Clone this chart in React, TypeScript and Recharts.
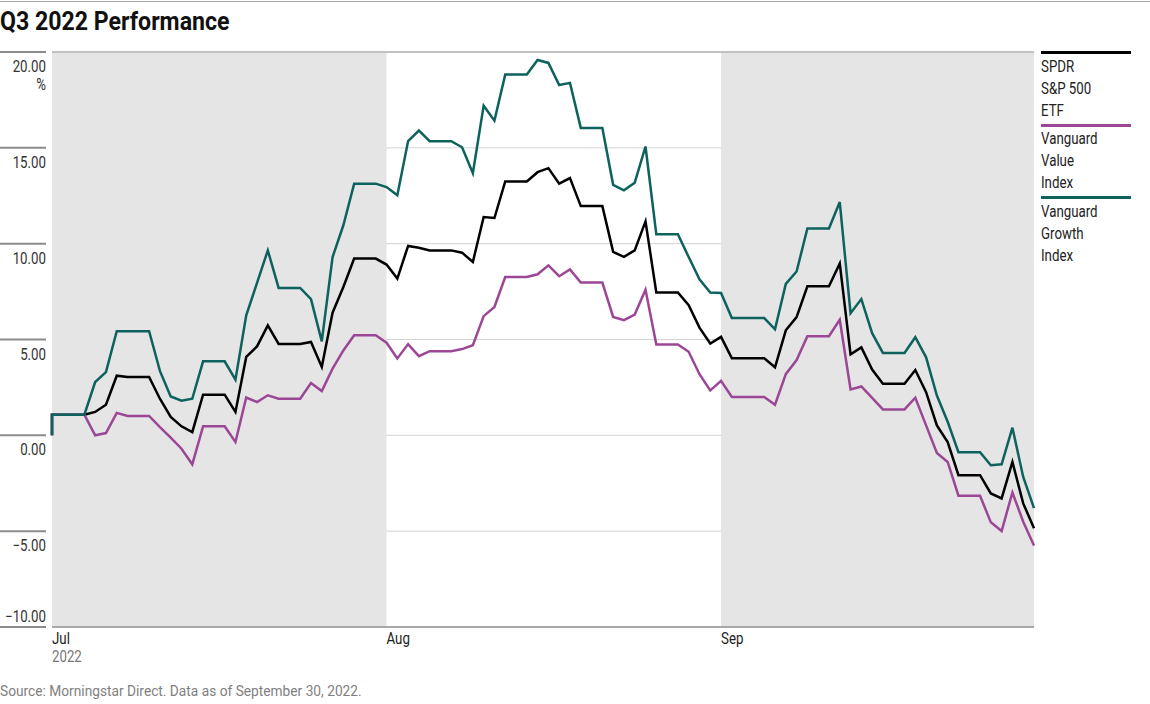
import React from "react";
import {
    LineChart,
    Line,
    XAxis,
    YAxis,
    CartesianGrid,
    ReferenceArea,
    ReferenceLine,
} from "recharts";

// ── Data ──────────────────────────────────────────────────────────────────────
// x = calendar day of the quarter (0 = Jul 1). First entry is the Jun 30 base.
const days = [0, ...Array.from({ length: 92 }, (_, i) => i)];

// cumulative total return, %, one value per calendar day (weekends carry over)
const spyValues = [
    0,
    1.08, 1.08, 1.08, 1.08, 1.22, 1.6, 3.11, 3.04, 3.04, 3.04,
    1.91, 0.96, 0.47, 0.17, 2.12, 2.12, 2.12,
    1.22, 4.09, 4.64, 5.74, 4.77, 4.77, 4.77,
    4.87, 3.57, 6.4, 7.74, 9.22, 9.22, 9.22,
    8.91, 8.18, 9.88, 9.79, 9.65, 9.65, 9.65,
    9.53, 9.04, 11.39, 11.34, 13.25, 13.25, 13.25,
    13.73, 13.94, 13.13, 13.42, 11.96, 11.96, 11.96,
    9.57, 9.31, 9.65, 11.16, 7.45, 7.45, 7.45,
    6.79, 5.62, 4.79, 5.14, 4.02, 4.02, 4.02, 4.02,
    3.55, 5.48, 6.17, 7.78, 7.78, 7.78,
    8.97, 4.23, 4.59, 3.43, 2.69, 2.69, 2.69,
    3.41, 2.25, 0.52, -0.35, -2.08, -2.08, -2.08,
    -3.03, -3.29, -1.39, -3.55, -4.85,
];

const valueValues = [
    0,
    1.08, 1.08, 1.08, 1.08, 0.0, 0.12, 1.17, 1.01, 1.01, 1.01,
    0.43, -0.12, -0.7, -1.51, 0.47, 0.47, 0.47,
    -0.35, 1.97, 1.74, 2.09, 1.91, 1.91, 1.91,
    2.73, 2.31, 3.48, 4.43, 5.22, 5.22, 5.22,
    4.83, 4.01, 4.76, 4.13, 4.39, 4.39, 4.39,
    4.5, 4.7, 6.22, 6.7, 8.26, 8.26, 8.26,
    8.4, 8.87, 8.3, 8.66, 7.97, 7.97, 7.97,
    6.18, 6.01, 6.3, 7.6, 4.74, 4.74, 4.74,
    4.36, 3.19, 2.34, 2.84, 2.0, 2.0, 2.0, 2.0,
    1.6, 3.19, 3.93, 5.17, 5.17, 5.17,
    6.03, 2.4, 2.55, 1.96, 1.35, 1.35, 1.35,
    1.96, 0.52, -0.92, -1.39, -3.15, -3.15, -3.15,
    -4.54, -4.99, -2.98, -4.51, -5.75,
];

const growthValues = [
    0,
    1.08, 1.08, 1.08, 1.08, 2.78, 3.3, 5.43, 5.43, 5.43, 5.43,
    3.36, 2.03, 1.81, 1.91, 3.86, 3.86, 3.86,
    2.9, 6.26, 7.95, 9.65, 7.69, 7.69, 7.69,
    7.1, 4.9, 9.3, 10.96, 13.13, 13.13, 13.13,
    12.95, 12.52, 15.35, 15.9, 15.35, 15.35, 15.35,
    15.03, 13.68, 17.2, 16.42, 18.82, 18.82, 18.82,
    19.58, 19.43, 18.28, 18.39, 16.04, 16.04, 16.04,
    13.07, 12.78, 13.18, 15.07, 10.49, 10.49, 10.49,
    9.3, 8.14, 7.45, 7.43, 6.12, 6.12, 6.12, 6.12,
    5.53, 7.9, 8.55, 10.79, 10.79, 10.79,
    12.17, 6.37, 7.11, 5.33, 4.3, 4.3, 4.3,
    5.12, 4.07, 2.08, 0.71, -0.88, -0.88, -0.88,
    -1.56, -1.51, 0.4, -2.17, -3.8,
];

const monthTicks = [0, 31, 62];
const monthLabels = ["Jul", "Aug", "Sep"];
const yTicks = [-10, -5, 0, 5, 10, 15, 20];

const series = [
    { key: "spy", color: "#000000", lines: ["SPDR", "S&P 500", "ETF"] },
    { key: "value", color: "#9b4795", lines: ["Vanguard", "Value", "Index"] },
    { key: "growth", color: "#0e625d", lines: ["Vanguard", "Growth", "Index"] },
];

const data = days.map((day, i) => ({
    day,
    spy: spyValues[i],
    value: valueValues[i],
    growth: growthValues[i],
}));

// no condensed face installed, so Roboto gets squeezed horizontally
const FONT = "Roboto, 'Noto Sans', sans-serif";
const SX = 0.83;

// ── Ticks ─────────────────────────────────────────────────────────────────────
function YTick({ y, payload }: any) {
    const v = payload.value;
    const label = (v < 0 ? "\u2212" : "") + Math.abs(v).toFixed(2);
    const isBottom = v === yTicks[0];
    const isTop = v === yTicks[yTicks.length - 1];
    const ty = isBottom ? y - 5 : y + 20;
    return (
        <g>
            <line x1={0} x2={46} y1={y} y2={y} stroke="#8c8c8c" strokeWidth={2} />
            <text
                transform={`translate(46 ${ty}) scale(${SX} 1)`}
                textAnchor="end"
                fontSize={16}
                fill="#333"
                fontFamily={FONT}
            >
                {label}
            </text>
            {isTop && (
                <text
                    transform={`translate(46 ${y + 38}) scale(${SX} 1)`}
                    textAnchor="end"
                    fontSize={16}
                    fill="#333"
                    fontFamily={FONT}
                >
                    %
                </text>
            )}
        </g>
    );
}

function XTick({ x, payload }: any) {
    const idx = monthTicks.indexOf(payload.value);
    return (
        <g>
            <text transform={`translate(${x} 644) scale(${SX} 1)`} fontSize={16} fill="#222" fontFamily={FONT}>
                {monthLabels[idx]}
            </text>
            {idx === 0 && (
                <text transform={`translate(${x} 662) scale(${SX} 1)`} fontSize={16} fill="#777" fontFamily={FONT}>
                    2022
                </text>
            )}
        </g>
    );
}

const squeeze = (sx: number): React.CSSProperties => ({
    display: "inline-block",
    transform: `scaleX(${sx})`,
    transformOrigin: "left",
    whiteSpace: "nowrap",
});

// ── Component ─────────────────────────────────────────────────────────────────
export default function App() {
    return (
        <div
            style={{
                position: "absolute",
                left: 0,
                top: 0,
                width: 1150,
                height: 704,
                background: "#fff",
                fontFamily: FONT,
                overflow: "hidden",
            }}
        >
            <div style={{ position: "absolute", left: 0, top: 1, width: 1150, height: 1, background: "#aaa" }} />
            <div
                style={{
                    position: "absolute",
                    left: 0,
                    top: 8,
                    fontSize: 26,
                    lineHeight: "26px",
                    fontWeight: 700,
                    color: "#111",
                }}
            >
                <span style={squeeze(0.89)}>Q3 2022 Performance</span>
            </div>

            <LineChart
                width={1150}
                height={704}
                data={data}
                margin={{ top: 52, right: 116, left: 0, bottom: 27 }}
            >
                <ReferenceArea x1={0} x2={31} y1={-10} y2={20} fill="#e5e5e5" fillOpacity={1} stroke="none" />
                <ReferenceArea x1={62} x2={91} y1={-10} y2={20} fill="#e5e5e5" fillOpacity={1} stroke="none" />
                <CartesianGrid vertical={false} stroke="#d4d4d4" strokeWidth={1} />
                <ReferenceLine y={20} stroke="#b5b5b5" strokeWidth={1.5} />
                <XAxis
                    dataKey="day"
                    type="number"
                    domain={[0, 91]}
                    ticks={monthTicks}
                    tick={<XTick />}
                    tickLine={false}
                    axisLine={{ stroke: "#a8a8a8", strokeWidth: 2 }}
                    height={50}
                    interval={0}
                />
                <YAxis
                    type="number"
                    domain={[-10, 20]}
                    ticks={yTicks}
                    tick={<YTick />}
                    tickLine={false}
                    axisLine={false}
                    width={52}
                    interval={0}
                />
                {series.map((s) => (
                    <Line
                        key={s.key}
                        dataKey={s.key}
                        type="linear"
                        stroke={s.color}
                        strokeWidth={2.5}
                        dot={false}
                        activeDot={false}
                        isAnimationActive={false}
                    />
                ))}
            </LineChart>

            {/* Legend */}
            {series.map((s, i) => (
                <div key={s.key} style={{ position: "absolute", left: 1041, top: 51 + i * 72.5, width: 90 }}>
                    <div style={{ height: 3, background: s.color }} />
                    <div style={{ marginTop: 1.5, fontSize: 16, lineHeight: "22px", color: "#222" }}>
                        {s.lines.map((l) => (
                            <div key={l}>
                                <span style={squeeze(SX)}>{l}</span>
                            </div>
                        ))}
                    </div>
                </div>
            ))}

            <div
                style={{
                    position: "absolute",
                    left: 0,
                    top: 684,
                    fontSize: 15,
                    lineHeight: "15px",
                    color: "#808080",
                }}
            >
                <span style={squeeze(0.915)}>Source: Morningstar Direct. Data as of September 30, 2022.</span>
            </div>
        </div>
    );
}
